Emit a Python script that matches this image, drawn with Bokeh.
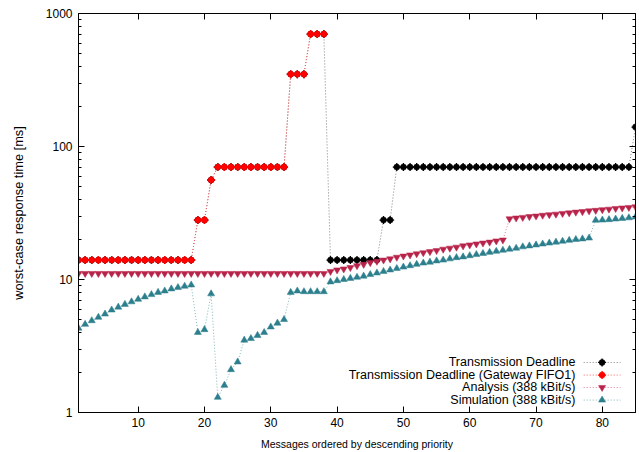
from bokeh.plotting import figure
from bokeh.models import (Range1d, LogAxis, LinearAxis, FixedTicker,
                          CustomJSTickFormatter, LinearScale)
from bokeh.core.properties import value
from bokeh.embed import file_html
from bokeh.resources import INLINE

# ---------------- data ----------------
messages = list(range(1, 86))

deadline = [14, 14, 14, 14, 14, 14, 14, 14, 14, 14, 14, 14, 14, 14, 14, 14, 14, 14,
            28, 28, 56,
            70, 70, 70, 70, 70, 70, 70, 70, 70, 70, 70,
            350, 350, 350,
            700, 700, 700,
            14, 14, 14, 14, 14, 14, 14, 14,
            28, 28,
            70, 70, 70, 70, 70, 70, 70, 70, 70, 70, 70, 70,
            70, 70, 70, 70, 70, 70, 70, 70, 70, 70, 70, 70,
            70, 70, 70, 70, 70, 70, 70, 70, 70, 70, 70, 70,
            140]

gateway_msgs = list(range(1, 39))
gateway = [14, 14, 14, 14, 14, 14, 14, 14, 14, 14, 14, 14, 14, 14, 14, 14, 14, 14,
           28, 28, 56,
           70, 70, 70, 70, 70, 70, 70, 70, 70, 70, 70,
           350, 350, 350,
           700, 700, 700]

analysis = [11.1, 11.1, 11.1, 11.1, 11.1, 11.1, 11.1, 11.1, 11.1, 11.1,
            11.1, 11.1, 11.1, 11.1, 11.1, 11.1, 11.1, 11.1, 11.1, 11.1,
            11.1, 11.1, 11.1, 11.1, 11.1, 11.1, 11.1, 11.1, 11.1, 11.1,
            11.1, 11.1, 11.1, 11.1, 11.1, 11.1, 11.1, 11.1,
            11.5, 11.8, 12.0, 12.3, 12.7, 13.0, 13.4, 13.7, 14.0, 14.3,
            14.7, 15.0, 15.3, 15.6, 15.9, 16.2, 16.5, 16.9, 17.2, 17.5,
            17.9, 18.2, 18.5, 18.8, 19.1, 19.5, 19.8,
            28.6, 29.0, 29.3, 29.7, 30.0, 30.4, 30.7, 31.0, 31.4, 31.7,
            32.1, 32.4, 32.8, 33.1, 33.5, 33.8, 34.2, 34.5, 34.8, 35.2]

simulation = [4.3, 4.6, 4.9, 5.2, 5.5, 5.9, 6.2, 6.5, 6.8, 7.1,
              7.4, 7.7, 8.0, 8.2, 8.5, 8.7, 8.9, 9.1,
              4.0, 4.2, 7.8, 1.3, 1.6, 2.1, 2.4, 3.5, 3.6, 3.8,
              4.0, 4.4, 4.7, 5.0, 8.0, 8.2, 8.1, 8.1, 8.1, 8.1,
              9.6, 9.8, 10.0, 10.2, 10.4, 10.6, 10.9, 11.2, 11.5, 11.8,
              12.1, 12.4, 12.7, 13.0, 13.3, 13.5, 13.8, 14.0, 14.3, 14.6,
              14.8, 15.1, 15.4, 15.7, 16.0, 16.3, 16.6, 16.9, 17.2, 17.6,
              17.9, 18.2, 18.5, 18.8, 19.1, 19.4, 19.7, 20.0, 20.2, 20.5,
              27.9, 28.0, 28.2, 28.5, 28.8, 29.1, 29.5]

x_ticks = [10, 20, 30, 40, 50, 60, 70, 80]
y_ticks = [1, 10, 100, 1000]
y_minor = [2, 3, 4, 5, 6, 7, 8, 9,
           20, 30, 40, 50, 60, 70, 80, 90,
           200, 300, 400, 500, 600, 700, 800, 900]

legend_labels = ["Transmission Deadline",
                 "Transmission Deadline (Gateway FIFO1)",
                 "Analysis (388 kBit/s)",
                 "Simulation (388 kBit/s)"]

# ---------------- styling ----------------
FONT = "Liberation Sans"
styles = [
    dict(marker="circle", size=6, color="#000000", line="#808080", star=True),
    dict(marker="circle", size=6, color="#ff0000", line="#ff5a5a", star=True),
    dict(marker="inverted_triangle", size=7, color="#b8234a", line="#e07a95", star=False),
    dict(marker="triangle", size=7, color="#2c7f8c", line="#7fb4bb", star=False),
]

p = figure(width=639, height=452, y_axis_type="log",
           x_range=Range1d(1, 85), y_range=Range1d(1, 1000),
           output_backend="svg", toolbar_location=None,
           min_border_left=78, min_border_right=4,
           min_border_top=13, min_border_bottom=40,
           background_fill_color="white", border_fill_color="white")
p.xgrid.visible = False
p.ygrid.visible = False
p.outline_line_color = "black"
p.outline_line_width = 1

# bottom axis
xa = p.xaxis[0]
xa.ticker = FixedTicker(ticks=x_ticks)
xa.major_tick_in = 6
xa.major_tick_out = 0
xa.minor_tick_in = 0
xa.minor_tick_out = 0
xa.major_label_standoff = 5
xa.major_label_text_font = FONT
xa.major_label_text_font_size = "12px"
xa.major_label_text_color = "black"
xa.axis_label = "Messages ordered by descending priority"
xa.axis_label_text_font = FONT
xa.axis_label_text_font_size = "10.5px"
xa.axis_label_text_font_style = "normal"
xa.axis_label_text_color = "black"
xa.axis_label_standoff = 8
xa.axis_line_color = "black"

# left axis
ya = p.yaxis[0]
ya.ticker = FixedTicker(ticks=y_ticks, minor_ticks=y_minor)
ya.formatter = CustomJSTickFormatter(code="return String(Math.round(tick))")
ya.major_tick_in = 6
ya.major_tick_out = 0
ya.minor_tick_in = 3
ya.minor_tick_out = 0
ya.major_label_standoff = 6
ya.major_label_text_font = FONT
ya.major_label_text_font_size = "12px"
ya.major_label_text_color = "black"
ya.axis_label = "worst-case response time [ms]"
ya.axis_label_text_font = FONT
ya.axis_label_text_font_size = "12.8px"
ya.axis_label_text_font_style = "normal"
ya.axis_label_text_color = "black"
ya.axis_label_standoff = 17
ya.axis_line_color = "black"

# mirrored axes (ticks only)
blank = CustomJSTickFormatter(code="return ''")
ra = LogAxis(ticker=FixedTicker(ticks=y_ticks, minor_ticks=y_minor),
             formatter=blank, major_tick_in=6, major_tick_out=0,
             minor_tick_in=3, minor_tick_out=0, major_label_standoff=0,
             axis_line_color="black")
p.add_layout(ra, "right")
ta = LinearAxis(ticker=FixedTicker(ticks=x_ticks), formatter=blank,
                major_tick_in=6, major_tick_out=0, minor_tick_in=0,
                minor_tick_out=0, major_label_standoff=0,
                axis_line_color="black")
p.add_layout(ta, "above")


def draw_marker(xs, ys, st, **kw):
    p.scatter(xs, ys, marker=st["marker"], size=st["size"],
              fill_color=st["color"], line_color=st["color"], line_width=0.5, **kw)
    if st["star"]:
        p.scatter(xs, ys, marker="cross", size=8, line_color=st["color"],
                  line_width=1.3, **kw)


# ---------------- series ----------------
series = [(messages, deadline), (gateway_msgs, gateway),
          (messages, analysis), (messages, simulation)]
for (xs, ys), st in zip(series, styles):
    p.line(xs, ys, line_color=st["line"], line_width=1, line_dash="1 2")
    draw_marker(xs, ys, st)

# ---------------- key (gnuplot style: text then sample) ----------------
p.extra_x_ranges = {"key": Range1d(0, 1)}
p.extra_y_ranges = {"key": Range1d(0, 1)}
p.extra_x_scales = {"key": LinearScale()}
p.extra_y_scales = {"key": LinearScale()}

key_rows = [0.1254, 0.0938, 0.0627, 0.0311]
p.text(x=[0.892] * 4, y=key_rows, text=legend_labels,
       x_range_name="key", y_range_name="key",
       text_align="right", text_baseline="middle",
       text_font=value(FONT), text_font_size="12.5px", text_color="black")
for r, st in zip(key_rows, styles):
    p.line([0.907, 0.973], [r, r], x_range_name="key", y_range_name="key",
           line_color=st["line"], line_width=1, line_dash="1 2")
    draw_marker([0.940], [r], st, x_range_name="key", y_range_name="key")

open("out.html", "w").write(file_html(p, INLINE))
